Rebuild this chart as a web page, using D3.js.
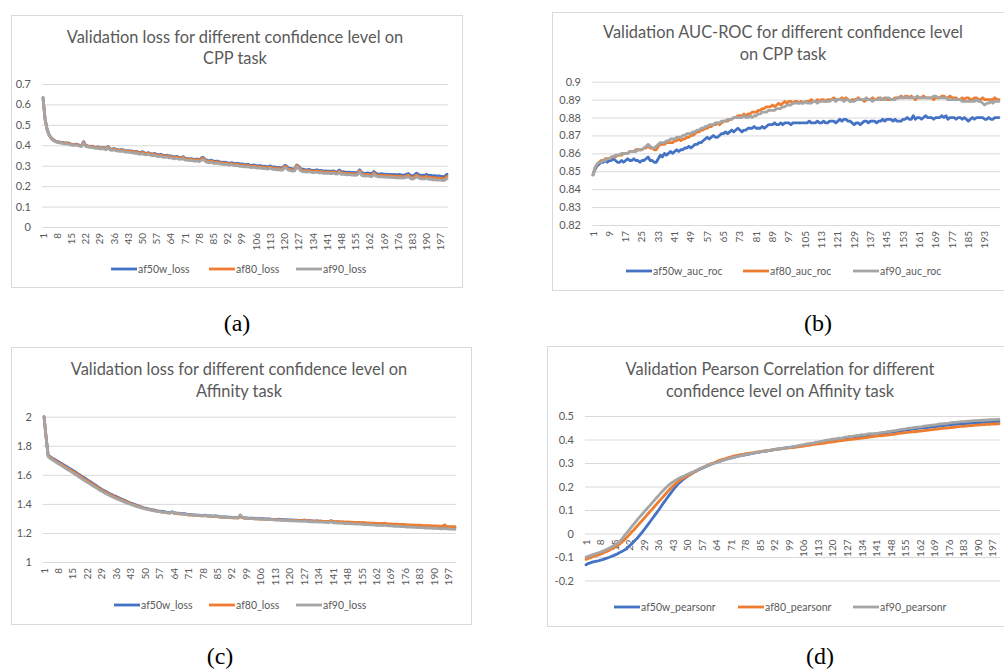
<!DOCTYPE html>
<html>
<head>
<meta charset="utf-8">
<script src="https://cdn.jsdelivr.net/npm/d3@7"></script>
<style>
body { margin: 0; background: #fff; }
svg text { font-family: Lato, 'Open Sans', sans-serif; }
</style>
</head>
<body>
<svg id="chart" width="1004" height="671"></svg>
<script>
// epochs 1..200 are the category axis shared by every panel
var epochs = d3.range(1, 201);
var colors = ['#4472C4', '#ED7D31', '#A5A5A5'];

// (a) validation loss, CPP task
var cppLossAf50w = [
0.632,0.530,0.478,0.452,0.437,0.428,0.421,0.418,0.416,0.414,0.413,0.411,0.412,0.409,0.405,0.403,0.406,0.404,0.400,0.398,
0.418,0.400,0.397,0.395,0.396,0.392,0.390,0.392,0.388,0.387,0.390,0.384,0.394,0.383,0.381,0.384,0.380,0.378,0.377,0.379,
0.375,0.373,0.374,0.371,0.372,0.368,0.370,0.366,0.364,0.369,0.363,0.361,0.364,0.359,0.357,0.360,0.355,0.353,0.356,0.351,
0.350,0.352,0.347,0.348,0.344,0.343,0.346,0.340,0.341,0.344,0.337,0.336,0.334,0.335,0.332,0.331,0.333,0.329,0.338,0.341,
0.330,0.326,0.324,0.327,0.322,0.321,0.323,0.319,0.318,0.316,0.317,0.314,0.313,0.315,0.311,0.310,0.312,0.308,0.309,0.306,
0.305,0.307,0.303,0.302,0.304,0.300,0.299,0.301,0.297,0.298,0.296,0.295,0.299,0.293,0.294,0.291,0.292,0.290,0.289,0.302,
0.298,0.288,0.287,0.284,0.286,0.304,0.296,0.285,0.283,0.281,0.280,0.282,0.279,0.277,0.278,0.280,0.276,0.277,0.274,0.275,
0.273,0.274,0.272,0.275,0.271,0.270,0.279,0.269,0.271,0.268,0.267,0.269,0.266,0.267,0.265,0.268,0.280,0.266,0.264,0.263,
0.265,0.262,0.261,0.272,0.263,0.260,0.259,0.261,0.258,0.259,0.257,0.258,0.256,0.258,0.255,0.257,0.256,0.254,0.255,0.258,
0.262,0.253,0.250,0.255,0.264,0.257,0.253,0.254,0.252,0.258,0.251,0.253,0.250,0.251,0.249,0.250,0.248,0.246,0.249,0.258];
var cppLossAf80 = [
0.630,0.527,0.476,0.450,0.435,0.426,0.420,0.417,0.415,0.413,0.411,0.410,0.410,0.407,0.404,0.402,0.405,0.402,0.399,0.397,
0.415,0.399,0.396,0.394,0.394,0.391,0.389,0.390,0.386,0.386,0.388,0.382,0.392,0.381,0.380,0.382,0.378,0.376,0.375,0.377,
0.373,0.371,0.372,0.369,0.370,0.366,0.368,0.364,0.362,0.366,0.360,0.359,0.362,0.357,0.355,0.357,0.352,0.351,0.353,0.348,
0.347,0.349,0.344,0.345,0.341,0.340,0.343,0.337,0.338,0.341,0.334,0.333,0.331,0.332,0.329,0.328,0.330,0.326,0.334,0.337,
0.326,0.322,0.320,0.323,0.318,0.317,0.319,0.315,0.314,0.312,0.313,0.310,0.309,0.311,0.307,0.306,0.307,0.303,0.304,0.301,
0.300,0.302,0.298,0.297,0.299,0.295,0.294,0.296,0.292,0.293,0.291,0.290,0.294,0.288,0.289,0.286,0.287,0.285,0.284,0.298,
0.293,0.283,0.282,0.279,0.281,0.301,0.292,0.280,0.277,0.276,0.275,0.277,0.274,0.272,0.273,0.275,0.271,0.272,0.269,0.270,
0.268,0.269,0.267,0.270,0.266,0.265,0.273,0.263,0.265,0.262,0.261,0.263,0.260,0.261,0.259,0.262,0.276,0.260,0.257,0.256,
0.258,0.255,0.254,0.266,0.256,0.253,0.252,0.254,0.251,0.252,0.250,0.251,0.249,0.250,0.247,0.249,0.248,0.246,0.247,0.250,
0.254,0.245,0.242,0.247,0.255,0.248,0.244,0.245,0.243,0.248,0.242,0.243,0.240,0.241,0.239,0.240,0.238,0.236,0.239,0.249];
var cppLossAf90 = [
0.635,0.532,0.478,0.449,0.433,0.424,0.418,0.414,0.412,0.410,0.408,0.407,0.406,0.404,0.401,0.399,0.402,0.399,0.396,0.394,
0.412,0.395,0.392,0.390,0.390,0.387,0.385,0.386,0.382,0.382,0.384,0.378,0.388,0.377,0.375,0.377,0.373,0.371,0.370,0.372,
0.368,0.366,0.367,0.364,0.364,0.360,0.362,0.358,0.356,0.360,0.354,0.353,0.356,0.351,0.349,0.351,0.346,0.345,0.347,0.342,
0.341,0.343,0.338,0.339,0.335,0.334,0.337,0.331,0.332,0.334,0.328,0.327,0.325,0.326,0.323,0.322,0.324,0.320,0.327,0.330,
0.320,0.316,0.314,0.317,0.312,0.311,0.313,0.309,0.308,0.306,0.307,0.304,0.303,0.305,0.301,0.300,0.301,0.297,0.298,0.295,
0.294,0.296,0.292,0.291,0.293,0.289,0.288,0.290,0.286,0.287,0.285,0.284,0.288,0.282,0.283,0.280,0.281,0.279,0.278,0.291,
0.286,0.277,0.276,0.273,0.275,0.294,0.286,0.274,0.271,0.270,0.269,0.271,0.268,0.266,0.267,0.269,0.265,0.266,0.263,0.264,
0.262,0.263,0.261,0.264,0.260,0.259,0.267,0.257,0.259,0.256,0.255,0.257,0.254,0.255,0.253,0.256,0.269,0.253,0.250,0.249,
0.251,0.248,0.247,0.258,0.249,0.246,0.245,0.247,0.244,0.245,0.243,0.244,0.242,0.243,0.240,0.242,0.241,0.239,0.240,0.243,
0.246,0.237,0.234,0.239,0.247,0.240,0.236,0.237,0.235,0.239,0.233,0.234,0.231,0.232,0.230,0.231,0.229,0.227,0.229,0.238];

// (b) validation AUC-ROC, CPP task
var cppAucAf50w = [
0.848,0.851,0.853,0.854,0.855,0.855,0.856,0.855,0.856,0.856,0.857,0.856,0.855,0.855,0.856,0.855,0.856,0.857,0.856,0.856,
0.857,0.856,0.856,0.855,0.856,0.856,0.857,0.858,0.856,0.856,0.855,0.855,0.857,0.859,0.858,0.860,0.859,0.860,0.861,0.860,
0.861,0.862,0.861,0.862,0.862,0.863,0.863,0.864,0.863,0.864,0.865,0.865,0.866,0.866,0.867,0.868,0.869,0.868,0.869,0.870,
0.869,0.869,0.870,0.871,0.871,0.872,0.871,0.872,0.873,0.872,0.873,0.874,0.873,0.872,0.873,0.873,0.874,0.874,0.874,0.875,
0.874,0.874,0.874,0.875,0.874,0.875,0.876,0.876,0.876,0.877,0.876,0.876,0.877,0.876,0.877,0.877,0.877,0.876,0.877,0.877,
0.877,0.877,0.877,0.877,0.877,0.877,0.878,0.877,0.877,0.877,0.878,0.877,0.877,0.878,0.877,0.877,0.878,0.878,0.878,0.877,
0.878,0.879,0.878,0.879,0.879,0.878,0.878,0.877,0.876,0.877,0.877,0.876,0.877,0.878,0.878,0.877,0.878,0.878,0.878,0.877,
0.878,0.878,0.879,0.878,0.879,0.879,0.879,0.878,0.879,0.878,0.878,0.878,0.879,0.879,0.880,0.879,0.879,0.881,0.879,0.880,
0.880,0.879,0.880,0.881,0.880,0.880,0.880,0.879,0.880,0.880,0.880,0.881,0.880,0.881,0.879,0.880,0.880,0.880,0.879,0.880,
0.880,0.879,0.880,0.879,0.878,0.879,0.880,0.879,0.880,0.880,0.880,0.880,0.879,0.879,0.880,0.879,0.879,0.880,0.880,0.880];
var cppAucAf80 = [
0.848,0.852,0.854,0.855,0.856,0.856,0.857,0.857,0.857,0.858,0.858,0.858,0.859,0.859,0.859,0.860,0.860,0.860,0.861,0.861,
0.861,0.862,0.862,0.862,0.862,0.863,0.863,0.864,0.863,0.863,0.862,0.862,0.864,0.865,0.865,0.865,0.866,0.866,0.866,0.866,
0.867,0.867,0.868,0.867,0.868,0.868,0.869,0.869,0.870,0.870,0.871,0.872,0.872,0.873,0.873,0.874,0.874,0.875,0.875,0.876,
0.876,0.877,0.876,0.877,0.878,0.878,0.878,0.879,0.879,0.880,0.880,0.881,0.881,0.881,0.882,0.881,0.882,0.882,0.883,0.883,
0.883,0.884,0.884,0.885,0.885,0.886,0.886,0.886,0.887,0.886,0.887,0.888,0.887,0.888,0.889,0.888,0.889,0.889,0.888,0.889,
0.889,0.888,0.889,0.888,0.889,0.889,0.889,0.890,0.889,0.889,0.890,0.889,0.890,0.890,0.889,0.890,0.890,0.890,0.891,0.890,
0.890,0.890,0.891,0.890,0.891,0.890,0.889,0.890,0.890,0.890,0.891,0.890,0.890,0.889,0.890,0.890,0.890,0.891,0.890,0.890,
0.891,0.890,0.890,0.891,0.890,0.890,0.890,0.890,0.891,0.891,0.891,0.892,0.891,0.891,0.892,0.891,0.892,0.891,0.890,0.891,
0.891,0.891,0.892,0.891,0.891,0.891,0.891,0.890,0.891,0.891,0.891,0.892,0.892,0.891,0.891,0.892,0.891,0.891,0.891,0.890,
0.890,0.891,0.890,0.891,0.891,0.890,0.890,0.891,0.891,0.890,0.890,0.891,0.890,0.890,0.890,0.890,0.890,0.891,0.890,0.890];
var cppAucAf90 = [
0.848,0.852,0.854,0.855,0.855,0.856,0.856,0.857,0.857,0.858,0.858,0.859,0.859,0.859,0.860,0.860,0.860,0.860,0.861,0.861,
0.861,0.861,0.862,0.862,0.862,0.863,0.864,0.865,0.864,0.863,0.863,0.864,0.865,0.866,0.866,0.866,0.867,0.867,0.868,0.868,
0.868,0.869,0.869,0.869,0.870,0.870,0.871,0.871,0.871,0.872,0.872,0.873,0.873,0.874,0.874,0.875,0.875,0.876,0.876,0.876,
0.877,0.877,0.877,0.878,0.878,0.878,0.879,0.879,0.879,0.880,0.880,0.880,0.880,0.880,0.881,0.880,0.880,0.881,0.880,0.881,
0.881,0.882,0.882,0.883,0.883,0.883,0.884,0.884,0.884,0.884,0.885,0.885,0.885,0.886,0.886,0.887,0.887,0.887,0.888,0.888,
0.888,0.888,0.888,0.888,0.889,0.888,0.888,0.888,0.889,0.889,0.888,0.889,0.889,0.889,0.889,0.889,0.889,0.890,0.890,0.889,
0.890,0.890,0.890,0.889,0.890,0.890,0.889,0.889,0.889,0.890,0.890,0.890,0.890,0.890,0.891,0.890,0.890,0.889,0.890,0.890,
0.890,0.891,0.890,0.890,0.891,0.891,0.890,0.890,0.890,0.891,0.891,0.891,0.891,0.892,0.891,0.891,0.891,0.891,0.891,0.892,
0.891,0.891,0.891,0.891,0.891,0.891,0.891,0.892,0.892,0.891,0.891,0.891,0.891,0.891,0.890,0.890,0.890,0.890,0.890,0.890,
0.890,0.889,0.889,0.889,0.889,0.889,0.889,0.889,0.890,0.889,0.889,0.888,0.887,0.888,0.888,0.889,0.888,0.889,0.889,0.889];

// (c) validation loss, Affinity task
var affLossAf50w = [
2.000,1.860,1.735,1.724,1.715,1.707,1.698,1.690,1.682,1.673,1.665,1.656,1.647,1.639,1.630,1.621,1.612,1.602,1.593,1.584,
1.575,1.565,1.556,1.547,1.537,1.528,1.519,1.509,1.500,1.492,1.485,1.477,1.470,1.463,1.456,1.450,1.443,1.437,1.430,1.424,
1.418,1.411,1.405,1.400,1.395,1.390,1.385,1.380,1.375,1.370,1.367,1.364,1.361,1.358,1.355,1.352,1.350,1.348,1.346,1.344,
1.342,1.341,1.346,1.339,1.337,1.336,1.335,1.333,1.332,1.330,1.326,1.327,1.325,1.324,1.323,1.322,1.321,1.320,1.322,1.319,
1.318,1.317,1.316,1.318,1.315,1.312,1.311,1.310,1.311,1.309,1.308,1.307,1.306,1.306,1.305,1.318,1.308,1.304,1.303,1.302,
1.302,1.301,1.300,1.301,1.299,1.298,1.298,1.297,1.296,1.297,1.295,1.294,1.294,1.293,1.295,1.292,1.291,1.291,1.290,1.289,
1.289,1.288,1.288,1.287,1.286,1.286,1.289,1.285,1.284,1.284,1.283,1.282,1.283,1.281,1.281,1.280,1.279,1.279,1.278,1.284,
1.277,1.276,1.276,1.275,1.274,1.274,1.273,1.272,1.272,1.271,1.270,1.269,1.269,1.268,1.267,1.267,1.266,1.265,1.264,1.264,
1.263,1.262,1.262,1.261,1.260,1.262,1.259,1.258,1.257,1.257,1.256,1.255,1.255,1.254,1.253,1.253,1.252,1.251,1.251,1.250,
1.249,1.249,1.248,1.247,1.247,1.246,1.246,1.245,1.244,1.244,1.243,1.242,1.242,1.241,1.245,1.240,1.239,1.239,1.238,1.237];
var affLossAf80 = [
2.000,1.858,1.732,1.720,1.710,1.701,1.692,1.683,1.675,1.666,1.658,1.649,1.640,1.632,1.623,1.614,1.605,1.595,1.586,1.577,
1.567,1.558,1.549,1.540,1.530,1.521,1.512,1.503,1.494,1.486,1.479,1.471,1.464,1.457,1.450,1.444,1.437,1.431,1.425,1.419,
1.413,1.407,1.401,1.396,1.391,1.386,1.381,1.376,1.372,1.368,1.364,1.361,1.358,1.355,1.352,1.349,1.347,1.344,1.342,1.340,
1.338,1.337,1.341,1.335,1.333,1.332,1.331,1.329,1.328,1.327,1.323,1.324,1.322,1.321,1.320,1.319,1.318,1.317,1.319,1.316,
1.315,1.314,1.313,1.315,1.312,1.309,1.308,1.307,1.308,1.306,1.305,1.304,1.303,1.303,1.302,1.312,1.305,1.301,1.300,1.299,
1.299,1.298,1.297,1.298,1.296,1.295,1.295,1.294,1.293,1.294,1.292,1.291,1.291,1.290,1.292,1.289,1.288,1.288,1.287,1.287,
1.287,1.286,1.286,1.285,1.285,1.284,1.288,1.284,1.283,1.283,1.282,1.282,1.283,1.281,1.281,1.280,1.280,1.279,1.279,1.284,
1.278,1.278,1.277,1.277,1.276,1.276,1.275,1.276,1.274,1.274,1.273,1.272,1.272,1.271,1.270,1.270,1.269,1.269,1.268,1.267,
1.267,1.266,1.266,1.265,1.264,1.268,1.263,1.262,1.262,1.261,1.260,1.260,1.259,1.258,1.258,1.257,1.256,1.256,1.255,1.254,
1.254,1.253,1.253,1.252,1.251,1.251,1.250,1.250,1.249,1.248,1.248,1.247,1.247,1.246,1.256,1.245,1.244,1.244,1.243,1.243];
var affLossAf90 = [
2.000,1.855,1.725,1.712,1.703,1.694,1.685,1.676,1.667,1.658,1.649,1.640,1.631,1.622,1.613,1.604,1.595,1.585,1.576,1.566,
1.557,1.548,1.539,1.530,1.521,1.512,1.503,1.494,1.486,1.478,1.470,1.463,1.456,1.449,1.442,1.436,1.430,1.424,1.418,1.412,
1.407,1.401,1.396,1.391,1.386,1.381,1.377,1.373,1.369,1.365,1.362,1.359,1.356,1.353,1.350,1.348,1.346,1.344,1.342,1.340,
1.339,1.338,1.345,1.336,1.334,1.333,1.332,1.330,1.329,1.328,1.325,1.325,1.323,1.322,1.321,1.320,1.319,1.318,1.321,1.317,
1.316,1.315,1.314,1.317,1.313,1.310,1.309,1.308,1.309,1.307,1.306,1.305,1.304,1.304,1.303,1.325,1.308,1.302,1.301,1.300,
1.299,1.298,1.297,1.298,1.296,1.295,1.294,1.293,1.292,1.293,1.291,1.290,1.289,1.288,1.290,1.287,1.286,1.286,1.285,1.284,
1.284,1.283,1.282,1.281,1.281,1.280,1.283,1.279,1.278,1.277,1.277,1.276,1.277,1.275,1.274,1.274,1.273,1.272,1.272,1.278,
1.270,1.269,1.268,1.268,1.267,1.266,1.265,1.265,1.264,1.263,1.262,1.261,1.261,1.260,1.259,1.258,1.257,1.257,1.256,1.255,
1.254,1.253,1.253,1.252,1.251,1.253,1.250,1.249,1.248,1.247,1.246,1.246,1.245,1.244,1.243,1.242,1.241,1.241,1.240,1.239,
1.238,1.237,1.237,1.236,1.235,1.234,1.234,1.233,1.232,1.231,1.231,1.230,1.229,1.229,1.232,1.228,1.227,1.226,1.226,1.225];

// (d) validation Pearson correlation, Affinity task
var affPearsonAf50w = [
-0.133,-0.128,-0.125,-0.122,-0.120,-0.118,-0.116,-0.113,-0.111,-0.108,-0.105,-0.102,-0.098,-0.095,-0.091,-0.087,-0.082,-0.078,-0.073,-0.068,
-0.060,-0.052,-0.044,-0.035,-0.026,-0.017,-0.006,0.005,0.016,0.028,0.040,0.052,0.064,0.076,0.088,0.100,0.113,0.126,0.138,0.150,
0.162,0.174,0.186,0.197,0.207,0.216,0.224,0.231,0.238,0.244,0.250,0.255,0.260,0.265,0.270,0.274,0.278,0.282,0.286,0.290,
0.294,0.297,0.300,0.303,0.306,0.309,0.312,0.314,0.317,0.319,0.322,0.324,0.326,0.328,0.330,0.332,0.334,0.336,0.337,0.339,
0.341,0.342,0.344,0.345,0.347,0.348,0.350,0.351,0.353,0.354,0.356,0.358,0.359,0.360,0.361,0.362,0.364,0.365,0.366,0.367,
0.369,0.370,0.372,0.373,0.375,0.376,0.378,0.379,0.381,0.382,0.384,0.385,0.387,0.388,0.390,0.391,0.393,0.394,0.396,0.397,
0.398,0.400,0.401,0.402,0.403,0.405,0.406,0.407,0.408,0.409,0.410,0.412,0.413,0.414,0.415,0.416,0.418,0.419,0.420,0.421,
0.422,0.424,0.425,0.426,0.427,0.429,0.430,0.431,0.432,0.434,0.435,0.436,0.437,0.439,0.440,0.441,0.442,0.444,0.445,0.446,
0.447,0.448,0.449,0.450,0.451,0.452,0.453,0.454,0.455,0.456,0.457,0.458,0.459,0.460,0.461,0.462,0.463,0.464,0.464,0.465,
0.466,0.467,0.467,0.468,0.469,0.469,0.470,0.470,0.471,0.472,0.472,0.473,0.473,0.474,0.474,0.475,0.475,0.476,0.476,0.477];
var affPearsonAf80 = [
-0.110,-0.106,-0.103,-0.100,-0.097,-0.094,-0.091,-0.088,-0.084,-0.080,-0.076,-0.072,-0.067,-0.062,-0.057,-0.051,-0.046,-0.039,-0.031,-0.022,
-0.013,-0.003,0.006,0.015,0.025,0.035,0.045,0.055,0.065,0.075,0.085,0.095,0.105,0.115,0.125,0.135,0.145,0.155,0.165,0.175,
0.185,0.194,0.203,0.211,0.218,0.225,0.231,0.236,0.241,0.246,0.251,0.256,0.261,0.266,0.271,0.276,0.280,0.284,0.288,0.292,
0.296,0.299,0.302,0.306,0.310,0.313,0.316,0.318,0.321,0.324,0.326,0.329,0.331,0.333,0.335,0.337,0.338,0.340,0.341,0.342,
0.343,0.344,0.346,0.347,0.348,0.350,0.351,0.352,0.354,0.355,0.356,0.357,0.358,0.359,0.360,0.361,0.362,0.363,0.364,0.365,
0.366,0.367,0.369,0.370,0.371,0.372,0.374,0.375,0.376,0.378,0.379,0.380,0.381,0.383,0.384,0.385,0.387,0.388,0.389,0.390,
0.391,0.393,0.394,0.395,0.396,0.397,0.398,0.400,0.401,0.402,0.403,0.404,0.405,0.406,0.407,0.408,0.409,0.411,0.412,0.413,
0.414,0.415,0.416,0.417,0.418,0.419,0.420,0.421,0.422,0.423,0.425,0.426,0.427,0.428,0.429,0.430,0.431,0.432,0.433,0.434,
0.435,0.436,0.437,0.438,0.439,0.440,0.441,0.442,0.443,0.444,0.445,0.446,0.447,0.448,0.449,0.450,0.451,0.452,0.453,0.454,
0.455,0.456,0.456,0.457,0.458,0.459,0.459,0.460,0.461,0.461,0.462,0.463,0.463,0.464,0.465,0.465,0.466,0.466,0.467,0.467];
var affPearsonAf90 = [
-0.100,-0.097,-0.094,-0.091,-0.088,-0.085,-0.082,-0.079,-0.075,-0.071,-0.067,-0.063,-0.058,-0.053,-0.048,-0.042,-0.036,-0.026,-0.015,-0.004,
0.007,0.018,0.029,0.040,0.051,0.062,0.072,0.082,0.092,0.102,0.112,0.122,0.132,0.142,0.152,0.162,0.172,0.181,0.190,0.199,
0.207,0.214,0.220,0.226,0.231,0.236,0.240,0.244,0.248,0.252,0.256,0.260,0.264,0.268,0.272,0.276,0.280,0.284,0.287,0.290,
0.294,0.297,0.300,0.302,0.305,0.309,0.311,0.314,0.317,0.319,0.321,0.324,0.326,0.328,0.330,0.333,0.334,0.336,0.338,0.339,
0.341,0.343,0.344,0.346,0.347,0.349,0.350,0.352,0.354,0.355,0.357,0.358,0.360,0.359,0.361,0.363,0.362,0.365,0.367,0.368,
0.370,0.372,0.373,0.375,0.377,0.378,0.380,0.382,0.383,0.385,0.386,0.389,0.390,0.392,0.393,0.395,0.397,0.398,0.400,0.401,
0.403,0.404,0.406,0.405,0.408,0.410,0.411,0.413,0.412,0.415,0.416,0.418,0.419,0.421,0.420,0.422,0.424,0.425,0.424,0.426,
0.425,0.427,0.429,0.430,0.431,0.433,0.434,0.436,0.437,0.438,0.440,0.441,0.443,0.444,0.445,0.447,0.448,0.449,0.451,0.452,
0.453,0.454,0.455,0.457,0.458,0.459,0.460,0.461,0.462,0.463,0.465,0.466,0.467,0.468,0.469,0.470,0.472,0.473,0.473,0.474,
0.475,0.476,0.476,0.477,0.478,0.478,0.479,0.480,0.480,0.481,0.481,0.482,0.482,0.483,0.483,0.484,0.485,0.485,0.486,0.486];

// y tick labels of each panel
var ticksA = [0, 0.1, 0.2, 0.3, 0.4, 0.5, 0.6, 0.7];
var ticksB = [0.82, 0.83, 0.84, 0.85, 0.86, 0.87, 0.88, 0.89, 0.9];
var ticksC = [1, 1.2, 1.4, 1.6, 1.8, 2];
var ticksD = [-0.2, -0.1, 0, 0.1, 0.2, 0.3, 0.4, 0.5];

var panels = [
    {
        frame: [11, 15, 451, 272], left: 42, right: 448, top: 84, bottom: 227,
        yDomain: [0, 0.7], yTicks: ticksA, xStep: 7, xAxisAt: 0,
        title: ['Validation loss for different confidence level on', 'CPP task'],
        titleX: 235, titleY: [43, 64],
        names: ['af50w_loss', 'af80_loss', 'af90_loss'],
        series: [cppLossAf50w, cppLossAf80, cppLossAf90],
        legendY: 269, legendX: [111, 209, 296],
        caption: '(a)', captionX: 237, captionY: 331
    },
    {
        frame: [552, 12, 470, 278], left: 592, right: 1000, top: 81.7, bottom: 225,
        yDomain: [0.82, 0.9], yTicks: ticksB, xStep: 8, xAxisAt: 0.82,
        title: ['Validation AUC-ROC for different confidence level', 'on CPP task'],
        titleX: 783, titleY: [38, 60],
        names: ['af50w_auc_roc', 'af80_auc_roc', 'af90_auc_roc'],
        series: [cppAucAf50w, cppAucAf80, cppAucAf90],
        legendY: 271, legendX: [626, 743, 853],
        caption: '(b)', captionX: 818, captionY: 331
    },
    {
        frame: [11, 347, 460, 277], left: 43, right: 456, top: 416.7, bottom: 562,
        yDomain: [1, 2], yTicks: ticksC, xStep: 7, xAxisAt: 1,
        title: ['Validation loss for different confidence level on', 'Affinity task'],
        titleX: 239, titleY: [375, 397],
        names: ['af50w_loss', 'af80_loss', 'af90_loss'],
        series: [affLossAf50w, affLossAf80, affLossAf90],
        legendY: 605, legendX: [114, 209, 296],
        caption: '(c)', captionX: 220, captionY: 664
    },
    {
        frame: [547, 346, 470, 280], left: 585, right: 1000, top: 416, bottom: 580.5,
        yDomain: [-0.2, 0.5], yTicks: ticksD, xStep: 7, xAxisAt: 0,
        title: ['Validation Pearson Correlation for different', 'confidence level on Affinity task'],
        titleX: 780, titleY: [375, 397],
        names: ['af50w_pearsonr', 'af80_pearsonr', 'af90_pearsonr'],
        series: [affPearsonAf50w, affPearsonAf80, affPearsonAf90],
        legendY: 607, legendX: [614, 738, 853],
        caption: '(d)', captionX: 820, captionY: 664
    }
];

var svg = d3.select('#chart');

function drawPanel(p) {
    var g = svg.append('g');

    g.append('rect')
        .attr('x', p.frame[0] + 0.5)
        .attr('y', p.frame[1] + 0.5)
        .attr('width', p.frame[2])
        .attr('height', p.frame[3])
        .attr('fill', '#fff')
        .attr('stroke', '#D9D9D9');

    var x = d3.scalePoint()
        .domain(epochs)
        .range([p.left, p.right])
        .padding(0.5);
    var y = d3.scaleLinear()
        .domain(p.yDomain)
        .range([p.bottom, p.top]);

    // value axis with gridlines
    g.append('g')
        .attr('transform', `translate(${p.left},0)`)
        .call(d3.axisLeft(y)
            .tickValues(p.yTicks)
            .tickSize(-(p.right - p.left))
            .tickPadding(11)
            .tickFormat(d => d))
        .call(a => a.select('.domain').remove())
        .call(a => a.selectAll('line').attr('stroke', '#D9D9D9'))
        .call(a => a.selectAll('text').attr('fill', '#595959').style('font-size', '11px'));

    // category labels, rotated, hanging from the category axis
    var axisY = y(p.xAxisAt);
    g.selectAll('.xlab')
        .data(epochs.filter(e => (e - 1) % p.xStep === 0))
        .enter()
        .append('text')
        .attr('class', 'xlab')
        .attr('transform', d => `translate(${x(d)},${axisY + 6}) rotate(-90)`)
        .attr('text-anchor', 'end')
        .attr('dy', '0.35em')
        .attr('fill', '#595959')
        .style('font-size', '10px')
        .text(d => d);

    var line = d3.line()
        .x((d, i) => x(epochs[i]))
        .y(d => y(d));

    p.series.forEach((s, i) => {
        g.append('path')
            .datum(s)
            .attr('fill', 'none')
            .attr('stroke', colors[i])
            .attr('stroke-width', 2.8)
            .attr('stroke-linejoin', 'round')
            .attr('stroke-linecap', 'round')
            .attr('d', line);
    });

    g.selectAll('.title')
        .data(p.title)
        .enter()
        .append('text')
        .attr('x', p.titleX)
        .attr('y', (d, i) => p.titleY[i])
        .attr('text-anchor', 'middle')
        .attr('fill', '#595959')
        .style('font-size', '16.4px')
        .text(d => d);

    p.names.forEach((name, i) => {
        g.append('line')
            .attr('x1', p.legendX[i])
            .attr('x2', p.legendX[i] + 26)
            .attr('y1', p.legendY)
            .attr('y2', p.legendY)
            .attr('stroke', colors[i])
            .attr('stroke-width', 2.8);
        g.append('text')
            .attr('x', p.legendX[i] + 27)
            .attr('y', p.legendY)
            .attr('dy', '0.35em')
            .attr('fill', '#595959')
            .style('font-size', '10.5px')
            .text(name);
    });

    svg.append('text')
        .attr('x', p.captionX)
        .attr('y', p.captionY)
        .attr('text-anchor', 'middle')
        .style('font-family', "'Liberation Serif', 'Times New Roman', serif")
        .style('font-size', '24px')
        .attr('fill', '#000')
        .text(p.caption);
}

panels.forEach(drawPanel);
</script>
</body>
</html>
